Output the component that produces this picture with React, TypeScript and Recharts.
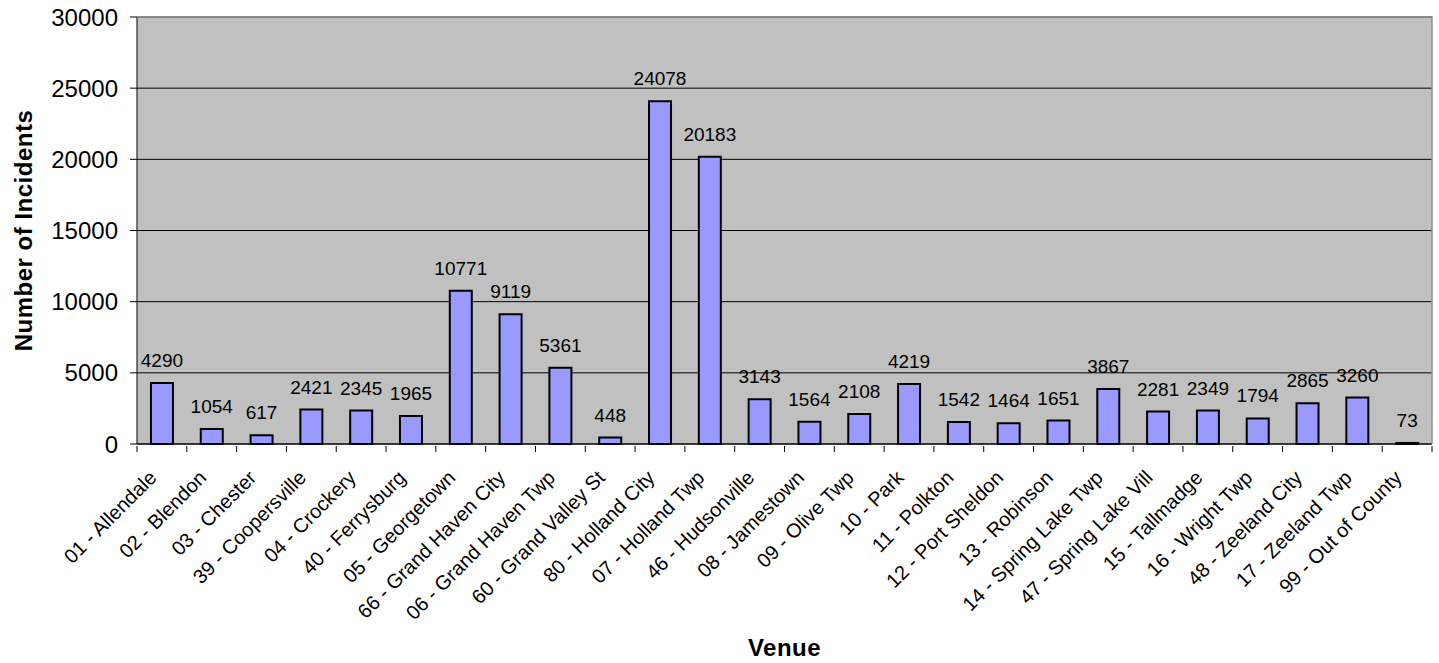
import React from "react";
import { BarChart, Bar, XAxis, YAxis, CartesianGrid, LabelList, Label } from "recharts";

const venues = [
  "01 - Allendale", "02 - Blendon", "03 - Chester", "39 - Coopersville", "04 - Crockery",
  "40 - Ferrysburg", "05 - Georgetown", "66 - Grand Haven City", "06 - Grand Haven Twp",
  "60 - Grand Valley St", "80 - Holland City", "07 - Holland Twp", "46 - Hudsonville",
  "08 - Jamestown", "09 - Olive Twp", "10 - Park", "11 - Polkton", "12 - Port Sheldon",
  "13 - Robinson", "14 - Spring Lake Twp", "47 - Spring Lake Vill", "15 - Tallmadge",
  "16 - Wright Twp", "48 - Zeeland City", "17 - Zeeland Twp", "99 - Out of County",
];
const incidents = [
  4290, 1054, 617, 2421, 2345, 1965, 10771, 9119, 5361, 448, 24078, 20183, 3143,
  1564, 2108, 4219, 1542, 1464, 1651, 3867, 2281, 2349, 1794, 2865, 3260, 73,
];
const yTicks = [0, 5000, 10000, 15000, 20000, 25000, 30000];

const data = venues.map((v, i) => ({ venue: v, value: incidents[i] }));

const W = 1439;
const H = 663;
const M = { top: 17, right: 7, left: 0, bottom: 0 };
const Y_W = 137;
const X_H = 219;
const PLOT_W = W - M.left - M.right - Y_W;
const STEP = PLOT_W / venues.length;
const FONT = "'Liberation Sans', Arial, sans-serif";

const XTick = (props: any) => {
  const { x, y, payload, index } = props;
  const tx = x - 9;
  const ty = y + 22;
  return (
    <g>
      <line x1={x - STEP / 2} y1={y - 6} x2={x - STEP / 2} y2={y} stroke="#000" strokeWidth={1} />
      {index === venues.length - 1 && (
        <line x1={x + STEP / 2} y1={y - 6} x2={x + STEP / 2} y2={y} stroke="#000" strokeWidth={1} />
      )}
      <text
        x={tx}
        y={ty}
        transform={`rotate(-45, ${tx}, ${ty})`}
        textAnchor="end"
        dominantBaseline="central"
        fontSize={20}
        fontFamily={FONT}
        fill="#000"
      >
        {payload.value}
      </text>
    </g>
  );
};

export default function App() {
  return (
    <div style={{ position: "absolute", left: 0, top: 0, width: W, height: H, background: "#fff" }}>
      <BarChart width={W} height={H} data={data} margin={M} barCategoryGap="28%">
        <CartesianGrid
          vertical={false}
          stroke="#000"
          strokeWidth={1}
          fill="#C0C0C0"
          fillOpacity={1}
        />
        <XAxis
          dataKey="venue"
          interval={0}
          height={X_H}
          tickLine={false}
          axisLine={{ stroke: "#000", strokeWidth: 1 }}
          tick={<XTick />}
        >
          <Label
            value="Venue"
            position="insideBottom"
            offset={7}
            style={{ fontSize: 24, fontWeight: "bold", fontFamily: FONT, fill: "#000", letterSpacing: 0.5 }}
          />
        </XAxis>
        <YAxis
          width={Y_W}
          domain={[0, 30000]}
          ticks={yTicks}
          interval={0}
          tickSize={7}
          tickMargin={12}
          tickLine={{ stroke: "#000" }}
          axisLine={{ stroke: "#000", strokeWidth: 1 }}
          tick={{ fontSize: 24, fontFamily: FONT, fill: "#000" }}
        >
          <Label
            value="Number of Incidents"
            angle={-90}
            position="insideLeft"
            offset={23}
            style={{ textAnchor: "middle", fontSize: 24, fontWeight: "bold", fontFamily: FONT, fill: "#000", letterSpacing: 0.5 }}
          />
        </YAxis>
        <Bar dataKey="value" fill="#9999FF" stroke="#000" strokeWidth={2} isAnimationActive={false}>
          <LabelList
            dataKey="value"
            position="top"
            offset={16}
            style={{ fontSize: 19, fontFamily: FONT, fill: "#000" }}
          />
        </Bar>
      </BarChart>
      <svg
        width={W}
        height={H}
        style={{ position: "absolute", left: 0, top: 0, pointerEvents: "none" }}
      >
        <polyline
          points={`${M.left + Y_W},${M.top} ${W - M.right},${M.top} ${W - M.right},${H - X_H}`}
          fill="none"
          stroke="#909090"
          strokeWidth={1.5}
        />
      </svg>
    </div>
  );
}
